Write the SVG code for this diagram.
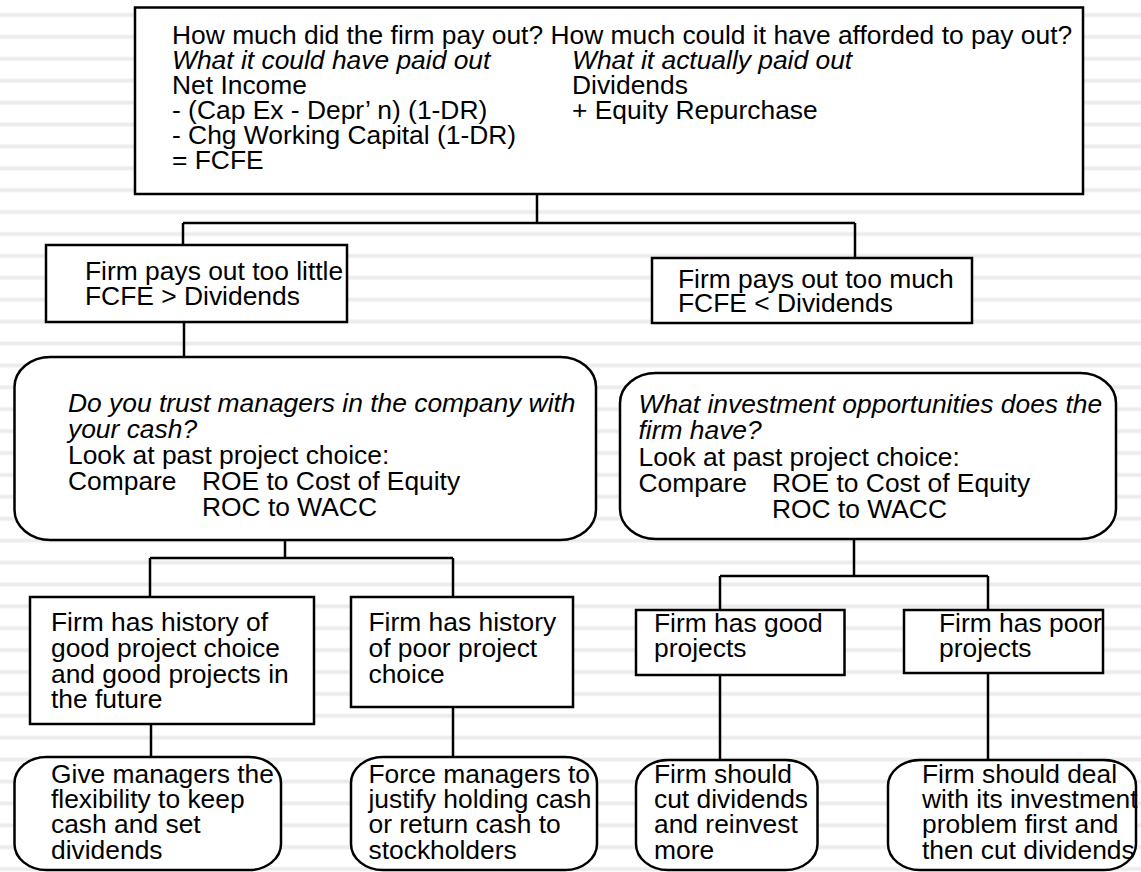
<svg xmlns="http://www.w3.org/2000/svg" width="1141" height="872" viewBox="0 0 1141 872">
<defs>
<pattern id="stripes" patternUnits="userSpaceOnUse" x="0" y="12.5" width="1141" height="21.9">
<rect x="0" y="0" width="1141" height="1" fill="#f6f6f6"/>
<rect x="0" y="1" width="1141" height="3" fill="#ececec"/>
<rect x="0" y="4" width="1141" height="1" fill="#f6f6f6"/>
</pattern>
<style>
.box{fill:#fff;stroke:#000;stroke-width:2.5}
.conn{fill:none;stroke:#000;stroke-width:2.5}
.t{font-family:"Liberation Sans",Arial,Helvetica,sans-serif;font-size:26.4px;fill:#000}
.i{font-style:italic}
</style>
</defs>
<rect x="0" y="0" width="1141" height="872" fill="#fff"/>
<rect x="0" y="0" width="1141" height="872" fill="url(#stripes)"/>

<g id="connectors">
<path class="conn" d="M537,194 V223 M183,223 H855 M183,223 V260 M855,223 V258"/>
<path class="conn" d="M184,323 V372"/>
<path class="conn" d="M285,540 V558 M150,558 H453 M150,558 V596 M453,558 V596"/>
<path class="conn" d="M151,724 V757 M453,707 V757"/>
<path class="conn" d="M854,539 V576 M720,576 H988 M720,576 V610 M988,576 V610"/>
<path class="conn" d="M720,675 V760 M988,673 V760"/>
</g>

<g id="top">
<rect class="box" x="135" y="7.5" width="948" height="186.5"/>
<text class="t">
<tspan x="172" y="44">How much did the firm pay out? How much could it have afforded to pay out?</tspan>
<tspan x="172" y="69" class="i">What it could have paid out</tspan>
<tspan x="572" y="69" class="i">What it actually paid out</tspan>
<tspan x="172" y="94">Net Income</tspan>
<tspan x="572" y="94">Dividends</tspan>
<tspan x="172" y="119">- (Cap Ex - Depr’ n) (1-DR)</tspan>
<tspan x="572" y="119">+ Equity Repurchase</tspan>
<tspan x="172" y="144">- Chg Working Capital (1-DR)</tspan>
<tspan x="172" y="169">= FCFE</tspan>
</text>
</g>

<g id="too-little">
<rect class="box" x="46" y="245" width="301" height="77"/>
<text class="t">
<tspan x="85" y="280">Firm pays out too little</tspan>
<tspan x="85" y="305">FCFE &gt; Dividends</tspan>
</text>
</g>

<g id="too-much">
<rect class="box" x="652" y="258" width="320" height="65"/>
<text class="t">
<tspan x="678" y="288">Firm pays out too much</tspan>
<tspan x="678" y="312">FCFE &lt; Dividends</tspan>
</text>
</g>

<g id="trust">
<rect class="box" x="14.5" y="357" width="581.5" height="183" rx="36" ry="30"/>
<text class="t">
<tspan x="68" y="412" class="i">Do you trust managers in the company with</tspan>
<tspan x="68" y="438" class="i">your cash?</tspan>
<tspan x="68" y="463.5">Look at past project choice:</tspan>
<tspan x="68" y="489.5">Compare</tspan>
<tspan x="202" y="489.5">ROE to Cost of Equity</tspan>
<tspan x="202" y="515.5">ROC to WACC</tspan>
</text>
</g>

<g id="opportunities">
<rect class="box" x="620" y="373" width="496" height="166" rx="36" ry="30"/>
<text class="t">
<tspan x="638.5" y="413" class="i">What investment opportunities does the</tspan>
<tspan x="638.5" y="439" class="i">firm have?</tspan>
<tspan x="638.5" y="465.5">Look at past project choice:</tspan>
<tspan x="638.5" y="492">Compare</tspan>
<tspan x="772" y="492">ROE to Cost of Equity</tspan>
<tspan x="772" y="518">ROC to WACC</tspan>
</text>
</g>

<g id="good-history">
<rect class="box" x="30" y="597" width="284" height="127"/>
<text class="t">
<tspan x="51" y="631">Firm has history of</tspan>
<tspan x="51" y="657">good project choice</tspan>
<tspan x="51" y="682.5">and good projects in</tspan>
<tspan x="51" y="708">the future</tspan>
</text>
</g>

<g id="poor-history">
<rect class="box" x="351" y="597" width="222" height="110"/>
<text class="t">
<tspan x="368.5" y="631">Firm has history</tspan>
<tspan x="368.5" y="657">of poor project</tspan>
<tspan x="368.5" y="682.5">choice</tspan>
</text>
</g>

<g id="good-projects">
<rect class="box" x="636" y="610" width="208.5" height="65"/>
<text class="t">
<tspan x="654" y="632">Firm has good</tspan>
<tspan x="654" y="657">projects</tspan>
</text>
</g>

<g id="poor-projects">
<rect class="box" x="904" y="610" width="199" height="63"/>
<text class="t">
<tspan x="939" y="632">Firm has poor</tspan>
<tspan x="939" y="657">projects</tspan>
</text>
</g>

<g id="flexibility">
<rect class="box" x="14.5" y="757" width="266.5" height="113" rx="32" ry="26"/>
<text class="t">
<tspan x="51" y="782.5">Give managers the</tspan>
<tspan x="51" y="807.5">flexibility to keep</tspan>
<tspan x="51" y="833">cash and set</tspan>
<tspan x="51" y="858.5">dividends</tspan>
</text>
</g>

<g id="force">
<rect class="box" x="351" y="757" width="246" height="113" rx="32" ry="26"/>
<text class="t">
<tspan x="368.5" y="782.5">Force managers to</tspan>
<tspan x="368.5" y="807.5">justify holding cash</tspan>
<tspan x="368.5" y="833">or return cash to</tspan>
<tspan x="368.5" y="858.5">stockholders</tspan>
</text>
</g>

<g id="cut">
<rect class="box" x="636" y="760" width="181.5" height="110" rx="32" ry="26"/>
<text class="t">
<tspan x="654" y="782.5">Firm should</tspan>
<tspan x="654" y="807.5">cut dividends</tspan>
<tspan x="654" y="833">and reinvest</tspan>
<tspan x="654" y="858.5">more</tspan>
</text>
</g>

<g id="deal">
<rect class="box" x="888" y="760" width="248" height="110" rx="32" ry="26"/>
<text class="t">
<tspan x="922" y="782.5">Firm should deal</tspan>
<tspan x="922" y="807.5">with its investment</tspan>
<tspan x="922" y="833">problem first and</tspan>
<tspan x="922" y="858.5">then cut dividends</tspan>
</text>
</g>
</svg>
